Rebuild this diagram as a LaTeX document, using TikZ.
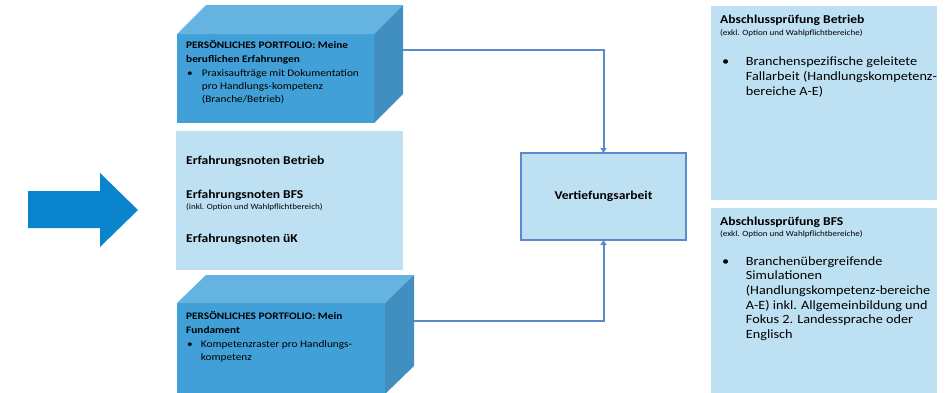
\documentclass[tikz,border=0pt]{standalone}
\usepackage{fontspec}
\setmainfont{Carlito}[FakeStretch=1.13]
\usetikzlibrary{arrows.meta}

\definecolor{cubefront}{HTML}{42A0D8}
\definecolor{cubetop}{HTML}{64B3E0}
\definecolor{cubeside}{HTML}{418FC0}
\definecolor{paleblue}{HTML}{BDE0F3}
\definecolor{linkblue}{HTML}{5A8ACB}
\definecolor{bigarrow}{HTML}{0A84CC}

\begin{document}
\begin{tikzpicture}[x=1pt, y=-1pt,
    front/.style={fill=cubefront, inner sep=0, outer sep=0},
    pale/.style={fill=paleblue, inner sep=0, outer sep=0},
    head/.style={anchor=base west, inner sep=0, align=left, font=\bfseries\fontsize{10}{14}\selectfont},
    item/.style={anchor=base west, inner sep=0, align=left, font=\fontsize{10}{13.3}\selectfont},
    bignote/.style={anchor=base west, inner sep=0, font=\bfseries\fontsize{12}{14}\selectfont},
    smallnote/.style={anchor=base west, inner sep=0, font=\fontsize{8}{9}\selectfont},
    rightitem/.style={anchor=base west, inner sep=0, align=left, font=\fontsize{12.6}{14.7}\selectfont},
    link/.style={draw=linkblue, line width=2pt, -{Triangle[width=6pt,length=5pt]}}]
    \useasboundingbox (0,0) rectangle (946,392);
    \clip (0,0) rectangle (946,392);

    \fill[bigarrow] (28,191) -- (100,191) -- (100,173) -- (138,210) -- (100,247) -- (100,228) -- (28,228) -- cycle;

    \node[front, minimum width=197, minimum height=89] (portTop) at (275.5,78.5) {};
    \fill[cubetop] (portTop.north west) -- ([shift={(29,-29)}]portTop.north west) -- ([shift={(29,-29)}]portTop.north east) -- (portTop.north east) -- cycle;
    \fill[cubeside] (portTop.north east) -- ([shift={(29,-29)}]portTop.north east) -- ([shift={(29,-29)}]portTop.south east) -- (portTop.south east) -- cycle;

    \node[front, minimum width=208, minimum height=91] (portBot) at (281,348.5) {};
    \fill[cubetop] (portBot.north west) -- ([shift={(29,-28)}]portBot.north west) -- ([shift={(29,-28)}]portBot.north east) -- (portBot.north east) -- cycle;
    \fill[cubeside] (portBot.north east) -- ([shift={(29,-28)}]portBot.north east) -- ([shift={(29,-28)}]portBot.south east) -- (portBot.south east) -- cycle;

    \node[pale, minimum width=227, minimum height=139] (noten) at (289.5,200.5) {};
    \node[pale, minimum width=226, minimum height=194] (apBetrieb) at (824,103) {};
    \node[pale, minimum width=226, minimum height=192] (apBFS) at (824,304) {};

    \node[pale, draw=linkblue, line width=2.5pt, minimum width=165, minimum height=87,
      font=\bfseries\fontsize{12}{14}\selectfont] (vert) at (603.5,196.5) {Vertiefungsarbeit};

    \draw[link] ([shift={(29,-29)}]portTop.east) -| (vert.north);
    \draw[link] ([shift={(29,-28)}]portBot.east) -| (vert.south);

    \node[head] (portTopHead) at (186,62.5) {PERSÖNLICHES PORTFOLIO: Meine\\beruflichen Erfahrungen};
    \node[item] (portTopDot) at (187,76) {\textbullet};
    \node[item] (portTopItem) at (201.7,102.6) {Praxisaufträge mit Dokumentation\\pro Handlungs-kompetenz\\(Branche/Betrieb)};

    \node[head] (portBotHead) at (186,333) {PERSÖNLICHES PORTFOLIO: Mein\\Fundament};
    \node[item] (portBotDot) at (187,347.3) {\textbullet};
    \node[item] (portBotItem) at (200.7,360.6) {Kompetenzraster pro Handlungs-\\kompetenz};

    \node[bignote] (notenA) at (186,164) {Erfahrungsnoten Betrieb};
    \node[bignote] (notenB) at (186,198) {Erfahrungsnoten BFS};
    \node[smallnote] (notenBsub) at (186,209) {(inkl. Option und Wahlpflichtbereich)};
    \node[bignote] (notenC) at (186,242) {Erfahrungsnoten üK};

    \node[bignote] (apBetriebHead) at (720,23.3) {Abschlussprüfung Betrieb};
    \node[smallnote] (apBetriebSub) at (720,35) {(exkl. Option und Wahlpflichtbereiche)};
    \node[rightitem] (apBetriebDot) at (722,65.6) {\textbullet};
    \node[rightitem] (apBetriebItem) at (745.7,95) {Branchenspezifische geleitete\\Fallarbeit (Handlungskompetenz-\\bereiche A-E)};

    \node[bignote] (apBFSHead) at (720,225) {Abschlussprüfung BFS};
    \node[smallnote] (apBFSSub) at (720,236.7) {(exkl. Option und Wahlpflichtbereiche)};
    \node[rightitem] (apBFSDot) at (722,265) {\textbullet};
    \node[rightitem] (apBFSItem) at (745.7,338.5) {Branchenübergreifende\\Simulationen\\(Handlungskompetenz-bereiche\\A-E) inkl. Allgemeinbildung und\\Fokus 2. Landessprache oder\\Englisch};
\end{tikzpicture}
\end{document}
